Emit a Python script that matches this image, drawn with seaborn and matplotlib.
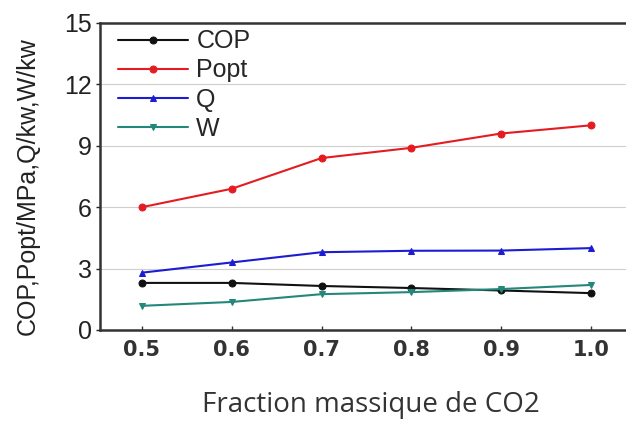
import matplotlib
matplotlib.use("Agg")
import matplotlib.pyplot as plt
import numpy as np
import pandas as pd
import seaborn as sns

# data
fraction = [0.5, 0.6, 0.7, 0.8, 0.9, 1.0]
cop = [2.3, 2.3, 2.15, 2.05, 1.93, 1.8]
popt = [6.0, 6.9, 8.4, 8.9, 9.6, 10.0]
q = [2.8, 3.3, 3.8, 3.87, 3.88, 4.0]
w = [1.18, 1.37, 1.75, 1.85, 2.0, 2.2]

series_names = ["COP", "Popt", "Q", "W"]
colors = ["#111111", "#e41c22", "#1c1cd2", "#23877a"]
markers = ["o", "o", "^", "v"]

sns.set_style("white")
plt.rcParams["font.family"] = ["Liberation Sans", "DejaVu Sans"]

fig = plt.figure(figsize=(6.26, 4.21), dpi=100)
ax = fig.add_axes([0.1597, 0.2162, 0.8403, 0.7292])

for name, vals, c, m in zip(series_names, [cop, popt, q, w], colors, markers):
    df = pd.DataFrame({"x": fraction, "y": vals})
    sns.lineplot(data=df, x="x", y="y", ax=ax, color=c, marker=m,
                 markersize=5, markeredgecolor=c, linewidth=1.5, label=name)

ax.set_xlim(0.4533, 1.039)
ax.set_ylim(0, 15)
ax.set_yticks([0, 3, 6, 9, 12, 15])
ax.set_xticks(fraction)
ax.set_xticklabels(["0.5", "0.6", "0.7", "0.8", "0.9", "1.0"])
ax.yaxis.grid(True, color="#cfcfcf", linewidth=0.8)
ax.set_axisbelow(True)

for s in ["left", "bottom", "top"]:
    ax.spines[s].set_color("#333333")
    ax.spines[s].set_linewidth(1.8)
ax.spines["right"].set_visible(False)

ax.tick_params(axis="y", direction="out", length=3, width=1, labelsize=18,
               colors="#222222", left=True, pad=3)
ax.tick_params(axis="x", direction="in", length=3, width=1, labelsize=15,
               colors="#333333", bottom=True, pad=7)
for lab in ax.get_xticklabels():
    lab.set_fontweight("bold")
    lab.set_family(["DejaVu Sans"])

ax.set_xlabel("")
ax.set_ylabel("")
fig.text(28 / 626, 1 - 186 / 421, "COP,Popt/MPa,Q/kw,W/kw", rotation=90,
         ha="center", va="center", fontsize=18, color="#222222")
fig.text(371 / 626, 1 - 412 / 421, "Fraction massique de CO2", ha="center",
         va="baseline", fontsize=20, color="#333333",
         family=["Open Sans", "DejaVu Sans"])

leg = ax.legend(loc="upper left", frameon=False, fontsize=18, handlelength=2.8,
                borderaxespad=0, borderpad=0.3, labelspacing=0.2,
                handletextpad=0.35,
                bbox_to_anchor=(110 / 626, 1 - 22 / 421),
                bbox_transform=fig.transFigure)

fig.savefig("out.png", dpi=100)
